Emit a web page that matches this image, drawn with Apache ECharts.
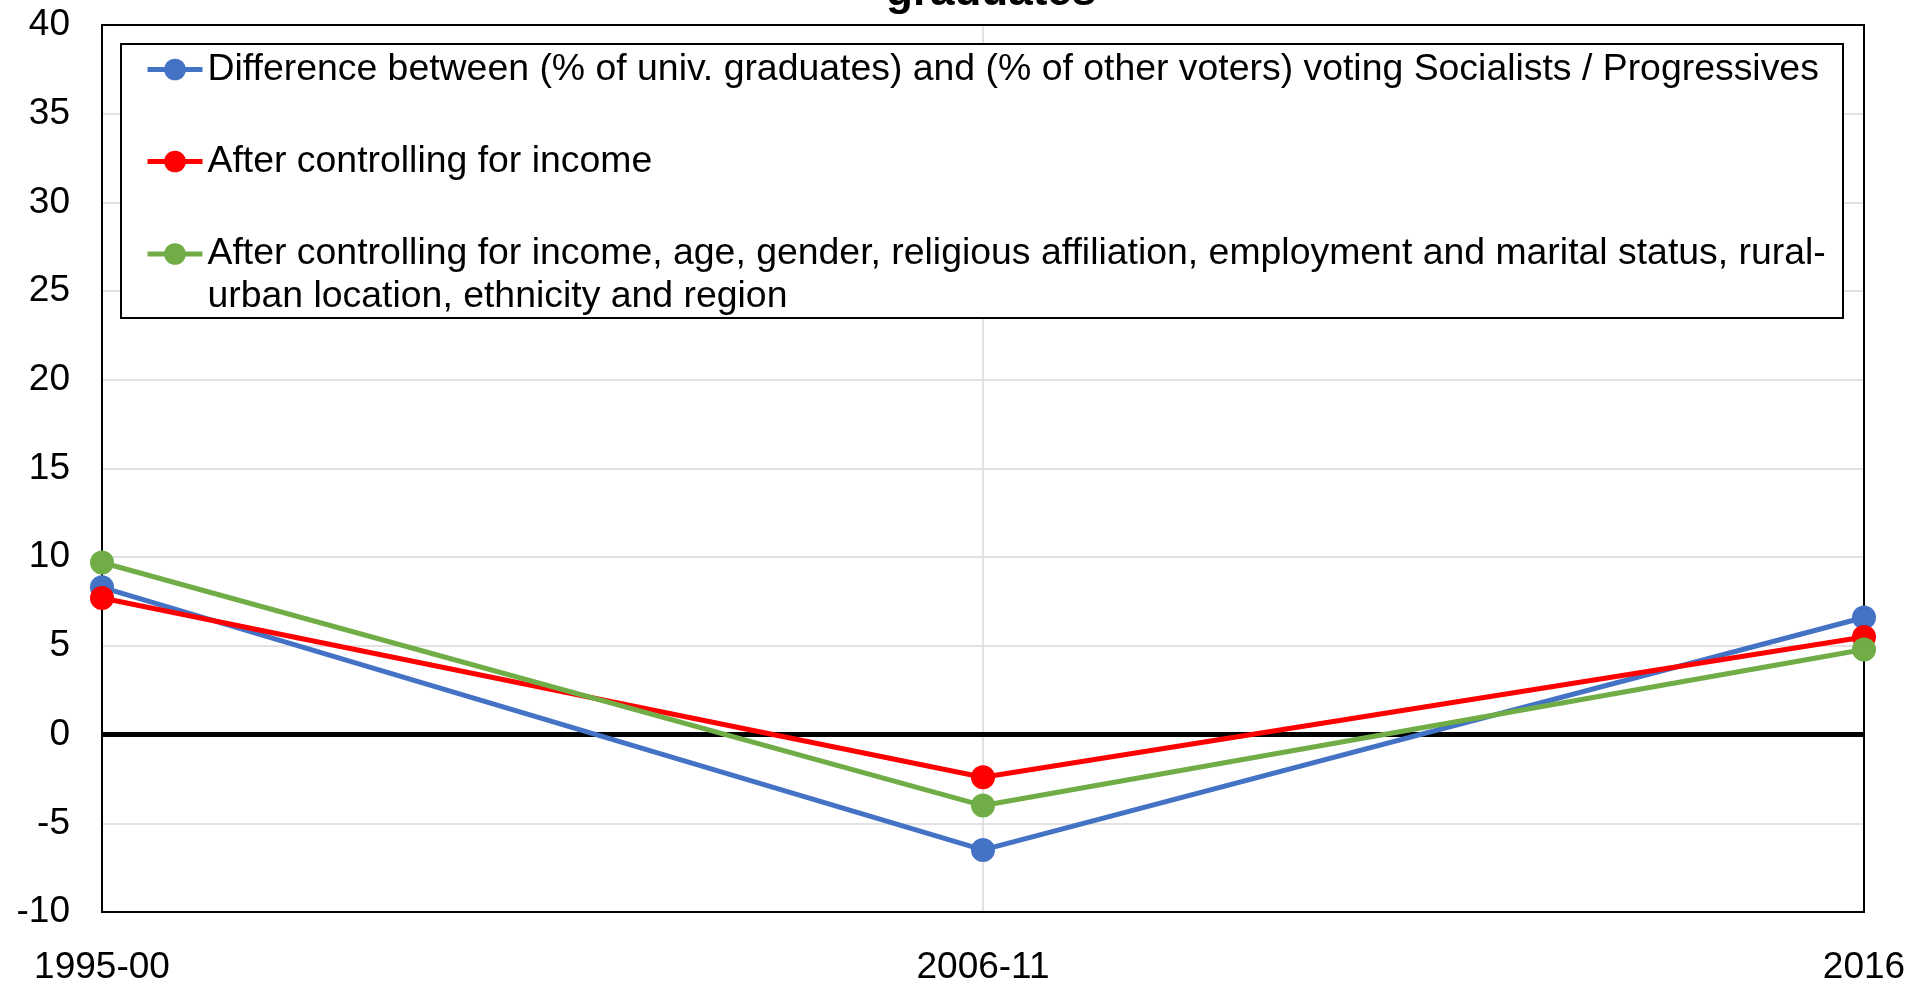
<!DOCTYPE html>
<html><head><meta charset="utf-8">
<script src="https://cdn.jsdelivr.net/npm/echarts@6/dist/echarts.min.js"></script>
<style>html,body{margin:0;padding:0;background:#fff}#c{width:1924px;height:984px}</style>
</head><body><div id="c"></div>
<script>
const categories = ['1995-00', '2006-11', '2016'];
const nameDiff = 'Difference between (% of univ. graduates) and (% of other voters) voting Socialists / Progressives';
const nameIncome = 'After controlling for income';
const nameAll = 'After controlling for income, age, gender, religious affiliation, employment and marital status, rural-urban location, ethnicity and region';
const diffValues = [8.3, -6.5, 6.6];
const incomeValues = [7.7, -2.4, 5.5];
const allValues = [9.7, -4.0, 4.8];
const yMin = -10, yMax = 40, yStep = 5;
const titleText = 'graduates';
const legendBreakAfter = 'rural-';

const FONT = "'Liberation Sans', Arial, Helvetica, sans-serif";
const colors = ['#4472C4', '#FF0000', '#70AD47'];

const chart = echarts.init(document.getElementById('c'), null, {renderer: 'canvas'});

function mkSeries(name, data, color, extra) {
  return Object.assign({
    type: 'line', name: name, data: data,
    symbol: 'circle', symbolSize: 24,
    lineStyle: {color: color, width: 5},
    itemStyle: {color: color},
    emphasis: {disabled: true},
    z: 3
  }, extra || {});
}

chart.setOption({
  animation: false,
  backgroundColor: '#fff',
  color: colors,
  title: {
    text: titleText, left: 886, top: -29, padding: 0,
    textStyle: {fontFamily: FONT, fontSize: 44, fontWeight: 'bold', color: '#000'}
  },
  grid: {
    left: 102, right: 60, top: 25, bottom: 72,
    outerBoundsMode: 'none', containLabel: false,
    show: true, borderColor: '#000', borderWidth: 2, backgroundColor: 'transparent', z: 1
  },
  graphic: [{
    type: 'rect', z: 3, silent: true,
    shape: {x: 121, y: 44, width: 1722, height: 274},
    style: {fill: '#fff', stroke: '#000', lineWidth: 2}
  }],
  legend: {
    orient: 'vertical', left: 145, top: 51, padding: 0, itemGap: 55,
    itemWidth: 55, itemHeight: 27, z: 5,
    selectedMode: false,
    lineStyle: {width: 5},
    data: [nameDiff, nameIncome, nameAll],
    formatter: function (name) {
      const i = name.indexOf(legendBreakAfter);
      if (i >= 0) {
        const cut = i + legendBreakAfter.length;
        return '{a|' + name.slice(0, cut) + '}\n{b|' + name.slice(cut) + '}';
      }
      return '{a|' + name + '}';
    },
    textStyle: {
      fontFamily: FONT, fontSize: 37.4, color: '#000',
      rich: {
        a: {fontFamily: FONT, fontSize: 37.4, color: '#000', lineHeight: 86},
        b: {fontFamily: FONT, fontSize: 37.4, color: '#000', lineHeight: 1}
      }
    }
  },
  xAxis: {
    type: 'category', data: categories, boundaryGap: false,
    axisLine: {onZero: false, lineStyle: {color: '#000', width: 2}},
    axisTick: {show: false},
    axisLabel: {fontFamily: FONT, fontSize: 37, color: '#000', margin: 37},
    splitLine: {show: true, showMinLine: false, showMaxLine: false, lineStyle: {color: '#d9d9d9', width: 1.5}}
  },
  yAxis: {
    type: 'value', min: yMin, max: yMax, interval: yStep,
    axisLine: {show: true, lineStyle: {color: '#000', width: 2}},
    axisTick: {show: false},
    axisLabel: {fontFamily: FONT, fontSize: 37, color: '#000', margin: 32},
    splitLine: {show: true, showMinLine: false, showMaxLine: false, lineStyle: {color: '#d9d9d9', width: 1.5}}
  },
  series: [
    mkSeries(nameDiff, diffValues, colors[0], {
      markLine: {
        silent: true, symbol: 'none', z: 2,
        label: {show: false},
        lineStyle: {color: '#000', width: 5, type: 'solid'},
        data: [{yAxis: 0}]
      }
    }),
    mkSeries(nameIncome, incomeValues, colors[1]),
    mkSeries(nameAll, allValues, colors[2])
  ]
});
</script>
</body></html>
